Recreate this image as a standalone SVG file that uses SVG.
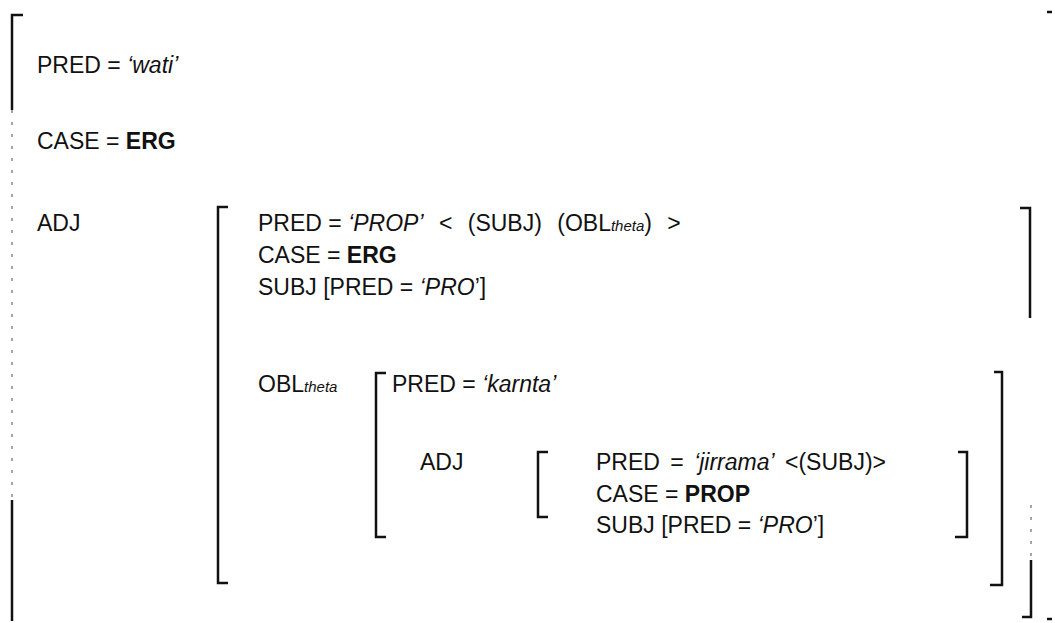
<svg xmlns="http://www.w3.org/2000/svg" width="1055" height="623" viewBox="0 0 1055 623">
<style>
text{font-family:"Liberation Sans",Arial,sans-serif;font-size:23px;fill:#111}
.i{font-style:italic}
.b{font-weight:bold}
.s{font-style:italic;font-size:15px}
.w{word-spacing:9px}
.w2{word-spacing:4px}
.br{fill:none;stroke:#111;stroke-width:2.5}
.f{fill:none;stroke:#111;stroke-width:1.5;stroke-dasharray:3 9;opacity:0.5}
</style>
<rect width="1055" height="623" fill="#fff"/>
<g id="brackets">
<path class="br" d="M23,15 H12 V110"/>
<path class="f" d="M12,110 V500"/>
<path class="br" d="M12,500 V621"/>
<path class="br" d="M1047,12 H1052"/>
<path class="br" d="M1047,619 H1052"/>
<path class="br" d="M228,207 H218 V583 H228"/>
<path class="br" d="M1020,208 H1030 V318"/>
<path class="f" d="M1031,505 V560"/>
<path class="br" d="M1031,560 V617 H1022"/>
<path class="br" d="M386,373 H376 V537 H386"/>
<path class="br" d="M994,372 H1002 V585 H990"/>
<path class="br" d="M548,452 H538 V517 H548"/>
<path class="br" d="M958,452 H967 V537 H955"/>
</g>
<g id="outer">
<text x="37" y="73">PRED = <tspan class="i">‘wati’</tspan></text>
<text x="37" y="149">CASE = <tspan class="b">ERG</tspan></text>
<text x="37" y="231">ADJ</text>
</g>
<g id="adj">
<text x="258" y="231">PRED = <tspan class="i">‘PROP’</tspan><tspan class="w"> &lt; (SUBJ) (OBL</tspan><tspan class="s">theta</tspan><tspan class="w">) &gt;</tspan></text>
<text x="258" y="263">CASE = <tspan class="b">ERG</tspan></text>
<text x="258" y="295">SUBJ [PRED = <tspan class="i">‘PRO</tspan>’]</text>
<text x="258" y="392">OBL<tspan class="s">theta</tspan></text>
</g>
<g id="obl">
<text x="392" y="392">PRED = <tspan class="i">‘karnta’</tspan></text>
<text x="420" y="470">ADJ</text>
</g>
<g id="jirrama">
<text x="596" y="470" class="w2">PRED = <tspan class="i">‘jirrama’</tspan> &lt;(SUBJ)&gt;</text>
<text x="596" y="502">CASE = <tspan class="b">PROP</tspan></text>
<text x="596" y="533">SUBJ [PRED = <tspan class="i">‘PRO</tspan>’]</text>
</g>
</svg>
